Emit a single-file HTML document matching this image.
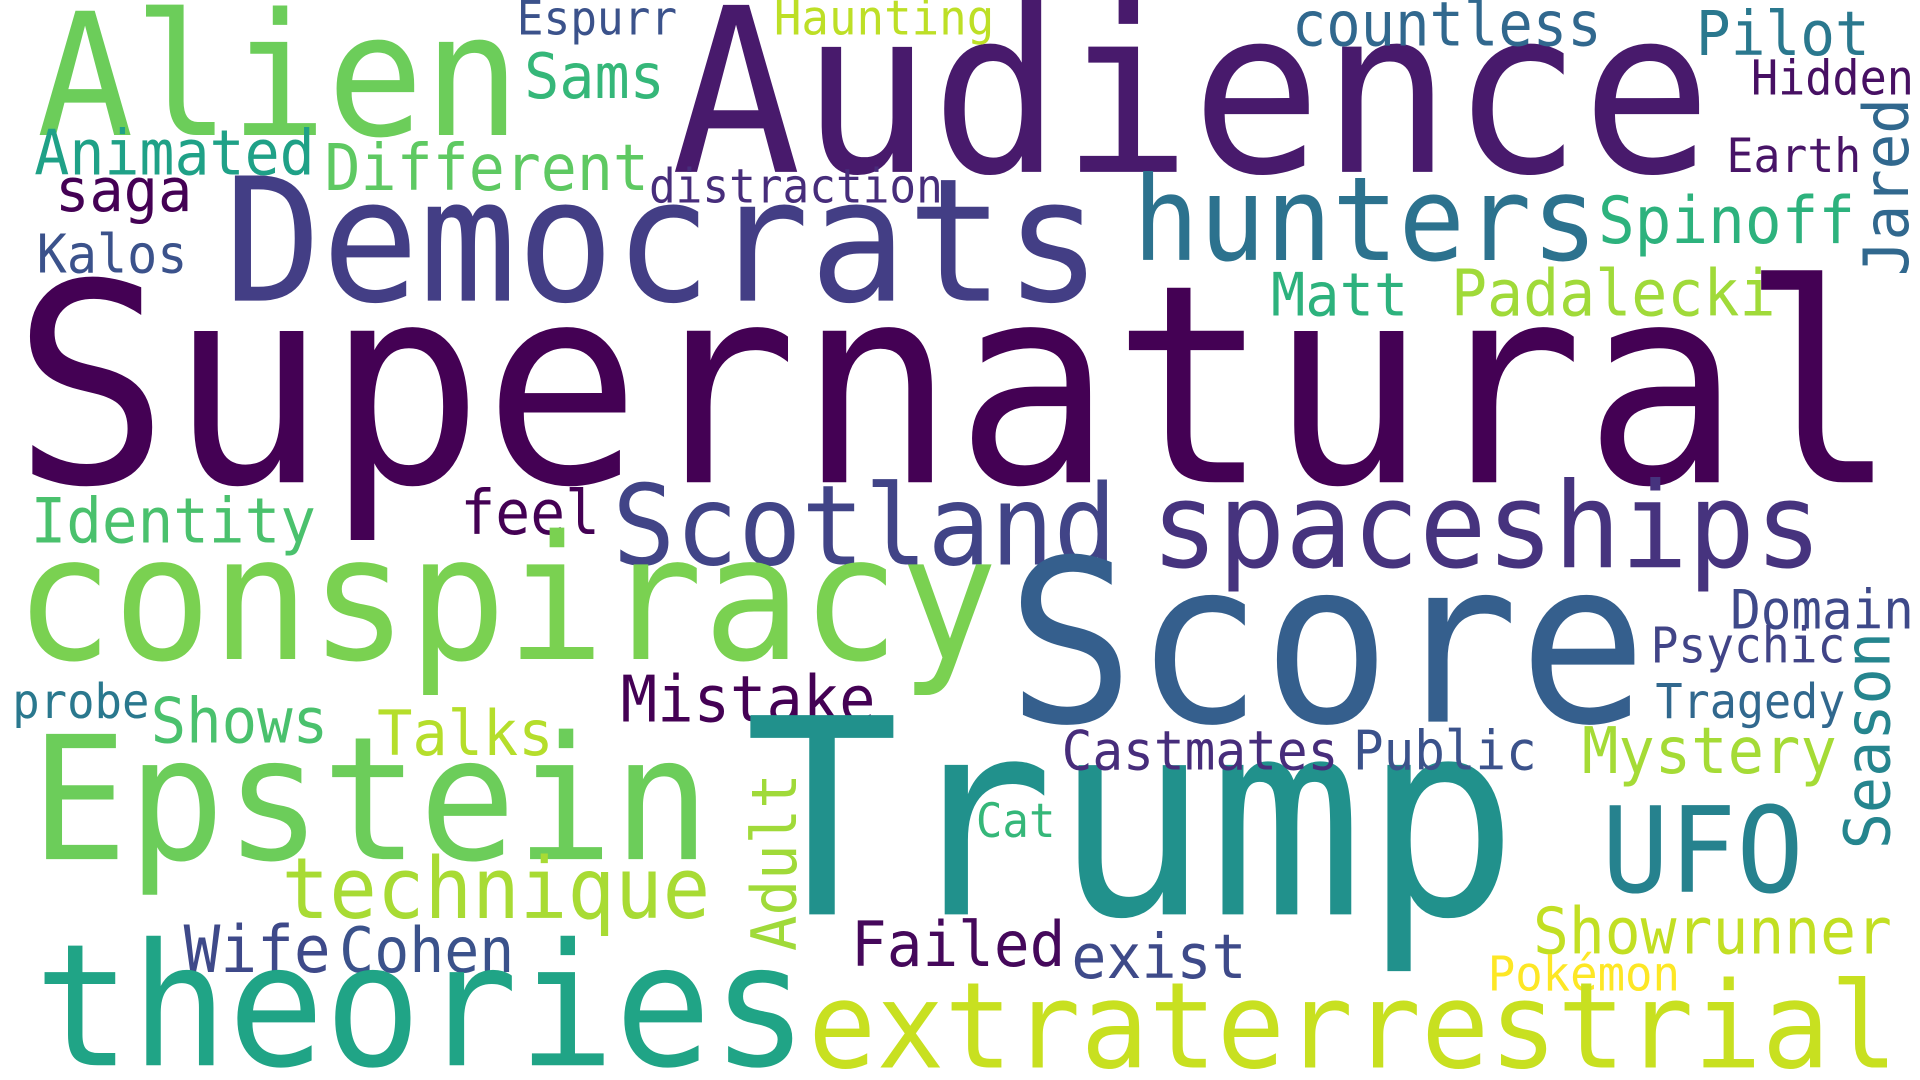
<!DOCTYPE html>
<html><head><meta charset="utf-8"><style>
html,body{margin:0;padding:0;background:#fff;width:1920px;height:1080px;overflow:hidden}
svg{display:block}
text{font-family:"DejaVu Sans Mono","Liberation Mono",monospace}
</style></head><body>
<svg width="1920" height="1080" viewBox="0 0 1568 880" preserveAspectRatio="none" xmlns="http://www.w3.org/2000/svg">
<rect width="1568" height="880" fill="#fff"/>
<g id="words"></g>
</svg>
<script>
const words = ["Supernatural","Audience","Alien","Democrats","hunters","Spinoff","Jared","Earth","Hidden","Pilot","countless","Haunting","Espurr","Sams","Animated","Different","saga","distraction","Kalos","Matt","Padalecki","Identity","feel","Scotland","spaceships","conspiracy","Score","Domain","Psychic","Season","probe","Shows","Talks","Mistake","Tragedy","Epstein","Trump","Castmates","Public","Mystery","UFO","Cat","Adult","technique","Failed","Wife","Cohen","exist","Showrunner","Pokémon","theories","extraterrestrial"];
const sizes = [213,176,131,132,90,50,48,36,37,47,47,37,36,48,48,49,46,36,41,46,49,48,47,86,91,133,174,42,38,49,37,48,48,49,37,132,210,42,42,49,91,36,48,65,48,50,48,47,49,37,131,92];
const colors = ["#440154","#481a6c","#6ccd5a","#433e85","#2c728e","#2db27d","#31688e","#481467","#471063","#2a788e","#31688e","#bddf26","#3b528b","#35b779","#1fa187","#5ec962","#440154","#472d7b","#3b528b","#2db27d","#a0da39","#4ac16d","#440154","#414487","#46337e","#7ad151","#355f8d","#3e4989","#414487","#25858e","#2a788e","#4ac16d","#b5de2b","#440154","#31688e","#6ccd5a","#21918c","#472d7b","#3b528b","#a5db36","#26828e","#35b779","#a0da39","#a8db34","#45085b","#3e4989","#3b528b","#3e4a89","#c2df23","#fde725","#20a486","#c8e020"];
const g = document.getElementById('words');
// layout: [x, baselineY, width, vertical]
const layout = [[10,393,1540,0],[548,140,850,0],[30,110,395,0],[183,245,717,0],[925,212,380,0],[1305,198,210,0],[1558,225,145,1],[1410,140,110,0],[1430,77,133,0],[1385,45,142,0],[1055,37,253,0],[632,28,180,0],[422,28,131,0],[428,80,115,0],[28,142,229,0],[265,155,265,0],[45,172,112,0],[530,165,240,0],[30,222,123,0],[1038,257,112,0],[1185,257,265,0],[25,442,233,0],[376,435,114,0],[500,460,412,0],[940,462,548,0],[12,537,803,0],[822,588,523,0],[1413,512,150,0],[1348,540,159,0],[1543,692,177,1],[10,585,112,0],[123,605,145,0],[308,615,144,0],[507,588,208,0],[1352,585,155,0],[25,700,555,0],[608,745,632,0],[867,627,226,0],[1105,627,150,0],[1292,630,208,0],[1308,727,165,0],[797,682,65,0],[650,775,145,1],[230,748,350,0],[695,787,175,0],[150,792,120,0],[277,792,143,0],[875,797,143,0],[1252,777,293,0],[1215,807,157,0],[28,868,632,0],[660,870,890,0]];
const scaleH = 1.06;
words.forEach((w,i)=>{
  const t = document.createElementNS('http://www.w3.org/2000/svg','text');
  const L = layout[i];
  t.textContent = w;
  t.setAttribute('font-size', sizes[i] * scaleH);
  t.setAttribute('fill', colors[i]);
  t.setAttribute('textLength', L[2]);
  t.setAttribute('lengthAdjust', 'spacingAndGlyphs');
  if (L[3]) t.setAttribute('transform', 'translate('+L[0]+','+L[1]+') rotate(-90)');
  else { t.setAttribute('x', L[0]); t.setAttribute('y', L[1]); }
  
  
  g.appendChild(t);
});
</script>
</body></html>
